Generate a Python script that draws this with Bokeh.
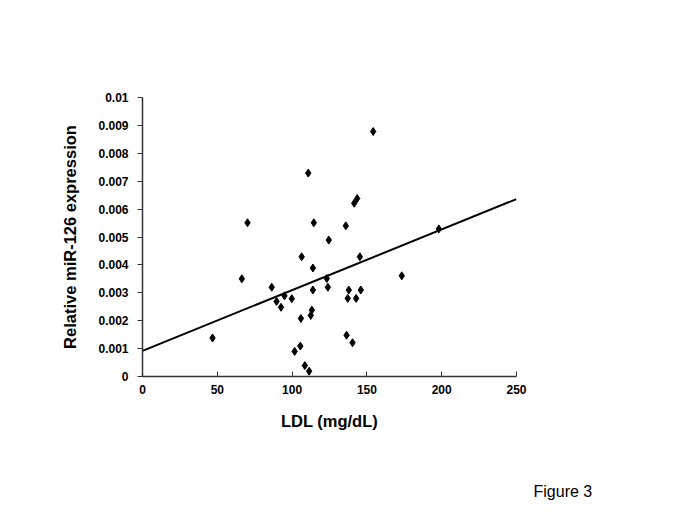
from bokeh.plotting import figure
from bokeh.models import Range1d, FixedTicker, Title
from bokeh.embed import file_html
from bokeh.resources import INLINE

# Data
ldl = [46.8, 66.4, 70.2, 86.4, 89.6, 92.6, 94.9, 99.8, 101.7, 105.5, 105.9,
       106.4, 108.5, 110.8, 111.4, 112.5, 113.2, 113.9, 113.9, 114.5, 123.2,
       123.9, 124.5, 135.9, 136.4, 137.2, 137.9, 140.4, 141.5, 142.8, 143.5,
       145.3, 145.9, 154.2, 173.3, 198.1]
mir126 = [0.00138, 0.0035, 0.00551, 0.0032, 0.00269, 0.00248, 0.00289, 0.00279,
          0.0009, 0.00109, 0.00208, 0.00429, 0.00039, 0.00729, 0.00019, 0.00219,
          0.00238, 0.00389, 0.0031, 0.00551, 0.00351, 0.0032, 0.00489, 0.0054,
          0.00148, 0.0028, 0.0031, 0.00121, 0.00621, 0.0028, 0.00638, 0.00429,
          0.0031, 0.00878, 0.00361, 0.00529]
fit_x = [0, 250]
fit_y = [0.00092, 0.00636]
x_ticks = [0, 50, 100, 150, 200, 250]
y_ticks = [0, 0.001, 0.002, 0.003, 0.004, 0.005, 0.006, 0.007, 0.008, 0.009, 0.01]
y_tick_labels = ["0", "0.001", "0.002", "0.003", "0.004", "0.005", "0.006",
                 "0.007", "0.008", "0.009", "0.01"]
caption = "Figure 3"

FONT = "Liberation Sans"

p = figure(width=669, height=505, output_backend="svg", toolbar_location=None,
           x_range=Range1d(0, 250), y_range=Range1d(0, 0.01),
           min_border_left=142, min_border_right=153,
           min_border_top=97, min_border_bottom=129)
p.outline_line_color = None
p.xgrid.visible = False
p.ygrid.visible = False
p.background_fill_color = "white"

p.line(fit_x, fit_y, line_color="black", line_width=2)
p.scatter(ldl, mir126, marker="diamond", size=8, fill_color="black",
          line_color="black")

for ax in (p.xaxis[0], p.yaxis[0]):
    ax.axis_line_color = "#333333"
    ax.axis_line_width = 1.5
    ax.major_tick_line_color = "#333333"
    ax.minor_tick_line_color = None
    ax.major_label_text_font = FONT
    ax.major_label_text_font_style = "bold"
    ax.major_label_text_font_size = "12px"
    ax.major_label_text_color = "black"
    ax.axis_label_text_font = FONT
    ax.axis_label_text_font_style = "bold"
    ax.axis_label_text_color = "black"

# y ticks point outward, x ticks point inward (as in the reference)
p.yaxis.major_tick_in = 0
p.yaxis.major_tick_out = 5
p.xaxis.major_tick_in = 5
p.xaxis.major_tick_out = 0

p.xaxis.ticker = FixedTicker(ticks=x_ticks)
p.yaxis.ticker = FixedTicker(ticks=y_ticks)
p.yaxis.major_label_overrides = {t: l for t, l in zip(y_ticks, y_tick_labels)}
p.xaxis.major_label_standoff = 8
p.yaxis.major_label_standoff = 9

p.xaxis.axis_label = "LDL (mg/dL)"
p.xaxis.axis_label_text_font_size = "16.5px"
p.xaxis.axis_label_standoff = 15
p.yaxis.axis_label = "Relative miR-126 expression"
p.yaxis.axis_label_text_font_size = "16.5px"
p.yaxis.axis_label_standoff = 16

# blank spacer panel, then the caption below-right
p.add_layout(Title(text=" ", text_font_size="1px", standoff=45), "below")
p.add_layout(Title(text=caption, text_font=FONT, text_font_size="16px",
                   text_font_style="normal", text_color="black",
                   align="left", offset=391, standoff=0), "below")

open("out.html", "w").write(file_html(p, INLINE))
